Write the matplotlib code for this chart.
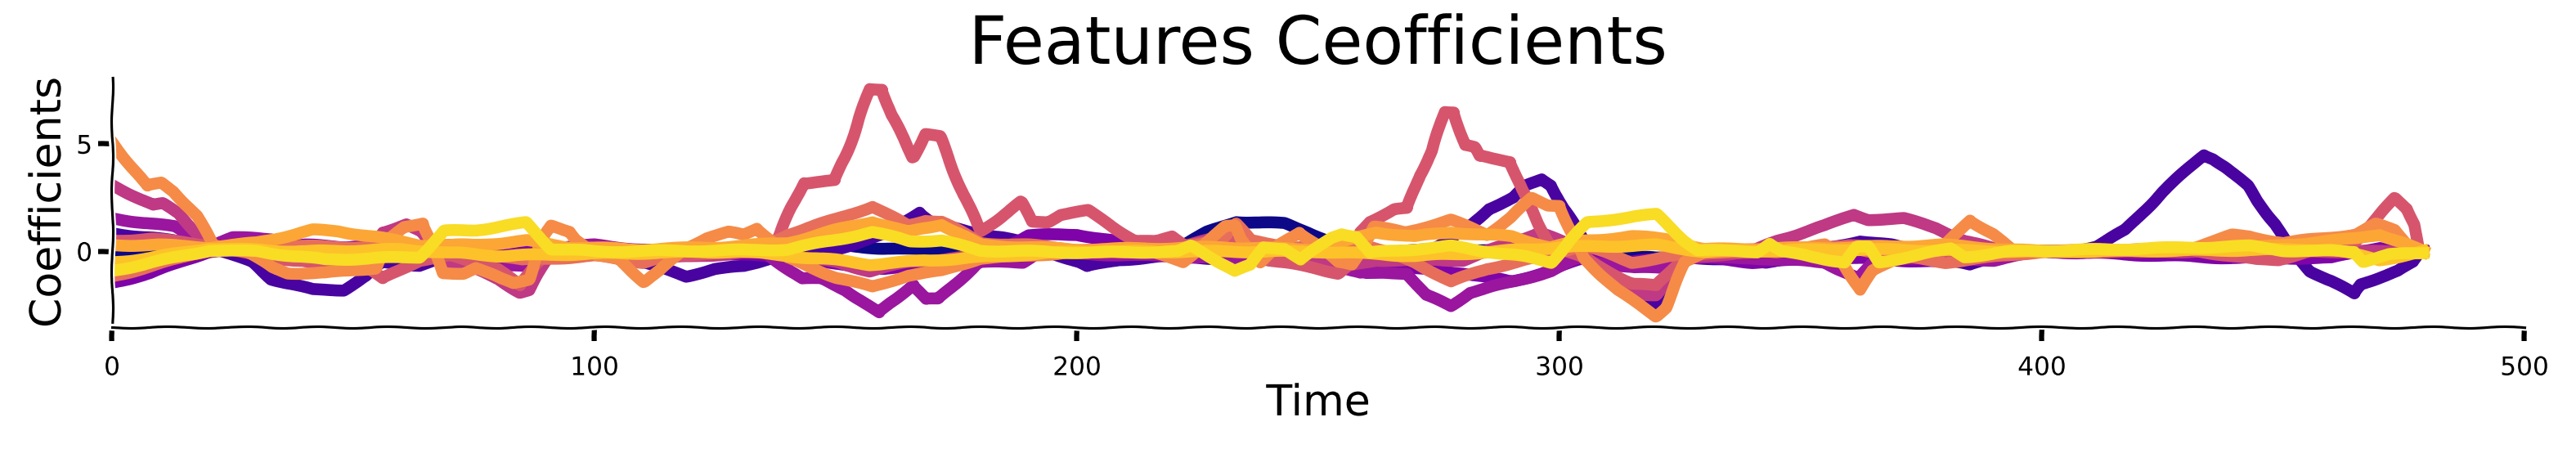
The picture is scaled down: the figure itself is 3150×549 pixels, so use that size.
import matplotlib
matplotlib.use("Agg")
import matplotlib.pyplot as plt
import numpy as np

# knots of each feature coefficient over time
t_navy = [0, 10, 20, 40, 60, 80, 100, 120, 140, 150, 160, 170, 180, 200, 215, 222, 227, 233, 243, 248, 252, 258, 280, 300, 320, 340, 380, 420, 460, 479]
v_navy = [-0.2, -0.1, 0.2, 0.1, 0.0, 0.1, 0.0, -0.1, 0.0, 0.3, 0.15, 0.05, 0.3, -0.2, -0.1, 0.3, 0.9, 1.4, 1.3, 0.9, 0.5, 0.0, 0.1, -0.1, -0.3, 0.0, 0.0, 0.0, 0.0, 0.0]

t_dpurple = [0, 8, 20, 29, 33, 41.6, 48, 52.7, 56, 63.7, 70, 80, 90, 100, 110, 119, 125, 131, 134, 140, 150, 160, 167.3, 170, 178.4, 184.9, 189, 200.4, 202, 208.7, 220, 227, 257.4, 268, 276.8, 282, 285.3, 290.5, 293, 296.3, 298.3, 300.8, 304, 305.2, 307.8, 315.6, 320.1, 323.4, 326.6, 342.8, 362.3, 368.8, 385, 393.5, 405.6, 411.4, 417.3, 425.1, 433.5, 435.5, 438, 442.6, 444.5, 448.4, 451, 455.6, 460.1, 464.7, 466, 470.5, 473.7, 477, 478.5]
v_dpurple = [0.85, 0.65, 0.25, -0.5, -1.27, -1.78, -1.78, -1.15, -0.5, -0.64, -0.2, -0.4, 0.2, 0.0, -0.5, -1.15, -0.8, -0.7, -0.5, 0.0, 0.1, 0.8, 1.84, 1.3, 0.9, 0.64, 0.4, -0.5, -0.7, -0.38, -0.2, -0.3, -0.5, -0.5, 0.5, 1.27, 2.0, 2.5, 3.05, 3.37, 3.1, 2.0, 0.9, 0.5, -0.5, -2.16, -2.48, -1.27, -0.25, -0.5, 0.5, 0.3, -0.64, 0.0, 0.0, 0.25, 1.0, 2.8, 4.5, 4.33, 3.94, 3.05, 2.4, 1.27, 0.25, -0.9, -1.4, -1.97, -1.53, -1.15, -0.9, -0.5, 0.0]

t_purple = [0, 8, 20, 40, 60, 80, 100, 120, 140, 150, 160, 170, 180, 190, 200, 210, 230, 250, 260, 270, 280, 290, 298, 305, 315, 325, 340, 360, 380, 400, 440, 460, 470, 479]
v_purple = [-1.45, -1.0, 0.0, 0.3, 0.1, 0.3, 0.2, 0.0, -0.3, -0.6, -0.8, -0.7, -0.3, 0.75, 0.8, 0.4, -0.2, -0.3, -1.0, -0.8, -1.0, -1.4, -0.9, -0.3, -0.5, -0.2, -0.5, -0.3, -0.5, 0.0, -0.3, -0.3, 0.2, 0.0]

t_violet = [0, 8, 13, 20, 25, 33, 40, 60, 70, 85, 92, 100, 120, 135, 143, 147, 152, 158.9, 166, 168.6, 171.2, 179.7, 188.8, 192, 200, 230, 250, 258.7, 268.4, 272.3, 277.5, 281.4, 290.5, 298.3, 304, 307.8, 315.6, 322, 326, 340, 355, 362, 366, 380, 390, 400, 479]
v_violet = [1.55, 1.3, 1.15, 0.25, 0.64, 0.6, 0.1, 0.4, -0.5, -0.7, 0.2, 0.3, -0.1, 0.0, -1.27, -1.27, -1.78, -2.86, -1.53, -2.22, -2.22, -0.5, -0.5, 0.0, -0.1, -0.3, -0.4, -1.0, -1.0, -2.03, -2.54, -1.9, -1.4, -0.9, -0.3, -0.5, -0.76, -0.76, -0.3, -0.3, -0.5, -1.27, -0.3, -0.3, -0.4, 0.0, 0.0]

t_magenta = [0, 8.5, 10.5, 13.7, 20.2, 30, 45, 52, 56, 61, 64, 69, 74, 80, 84.5, 86.5, 91, 100, 115, 135, 150, 157, 165, 175, 190, 210, 222, 228, 232, 236, 250, 256, 262, 280, 296, 302, 306, 315.6, 320, 326, 340, 345, 355, 361, 364, 371.4, 378, 384, 392, 479]
v_magenta = [3.1, 2.16, 2.22, 1.78, 0.25, 0.0, -0.7, -0.5, 0.9, 1.27, 0.9, -0.5, -0.7, -1.27, -1.9, -1.8, 0.0, 0.1, -0.3, 0.0, -0.5, -0.9, -0.5, -0.3, 0.0, 0.1, 0.2, 0.6, 0.6, 0.3, -0.5, -0.7, -0.4, -0.4, 0.9, 0.3, -0.3, -2.0, -2.0, -0.3, 0.0, 0.5, 1.2, 1.72, 1.5, 1.53, 1.1, 0.5, 0.0, 0.0]

t_pink = [0, 8, 20, 30, 45, 52, 56, 63.7, 70, 80, 84.5, 88, 92, 100, 110, 125, 135, 138.1, 140.7, 143.3, 149.8, 152.4, 154.4, 157, 159.6, 161.5, 166, 168.6, 171.6, 176.4, 180, 184.2, 188.4, 190.7, 194, 196.6, 202.3, 212, 216.5, 219.7, 222.3, 228, 234, 240, 248.9, 254.1, 257, 258.7, 260.6, 265.8, 268.4, 271, 273.6, 276.2, 278.1, 280.4, 282.4, 283.3, 289.8, 292.1, 295.7, 298.3, 305, 315, 320, 326, 340, 360, 370, 380, 400, 430, 444.5, 449, 455, 465, 469.2, 473.1, 475.7, 477.3, 478]
v_pink = [0.5, 0.6, 0.3, -0.2, -0.6, -0.6, -1.27, -0.4, -0.2, -0.8, -1.6, -0.5, 0.2, 0.0, -0.2, -0.1, 0.0, 0.64, 2.0, 3.2, 3.3, 4.7, 5.85, 7.57, 7.57, 6.36, 4.4, 5.47, 5.34, 2.67, 0.95, 1.6, 2.3, 1.4, 1.4, 1.72, 1.9, 0.5, 0.45, 0.7, 0.32, 0.5, 0.3, -0.4, -0.76, -1.0, -0.5, 0.9, 1.4, 1.97, 2.0, 3.56, 4.7, 6.5, 6.5, 4.96, 4.83, 4.45, 4.2, 2.9, 1.27, 0.25, -0.3, -1.5, -1.6, -0.2, 0.0, 0.3, 0.1, 0.0, 0.0, 0.1, -0.38, -0.38, 0.0, 0.5, 1.5, 2.48, 2.0, 1.27, 0.0]

t_salmon = [0, 8, 20, 30, 50, 70, 85, 100, 110, 120, 135, 140, 150, 157.6, 165, 168.6, 172, 180, 190, 200, 220, 230, 233, 236, 245, 260, 270, 277.5, 285, 295, 305, 315, 330, 360, 370, 380, 400, 450, 465, 470, 479]
v_salmon = [-1.15, -0.7, 0.1, 0.3, 0.2, 0.3, -0.4, -0.2, -0.5, 0.1, 0.2, 0.8, 1.5, 2.1, 1.2, 1.46, 1.4, 0.4, 0.3, 0.1, 0.0, 0.6, 1.3, 0.5, 0.2, 0.3, -0.5, -1.4, -0.8, -0.3, 0.3, -0.5, 0.0, 0.2, -0.2, -0.5, 0.0, 0.2, 0.8, 0.9, 0.0]

t_orange = [0, 7.2, 10.2, 12.8, 17.6, 20.9, 28, 33.2, 36.4, 44.2, 54.6, 57.2, 60.5, 64.4, 66.3, 68.6, 72.8, 75.4, 80.6, 83.2, 86.4, 89, 91, 94.9, 96.2, 100.5, 105, 110.2, 113.5, 118.7, 123.2, 127.8, 131, 133.6, 136.8, 140, 150, 157.6, 165, 172, 180, 190, 200, 215, 222, 226, 230.8, 232.7, 234, 238, 242, 246, 250, 254, 257, 261.6, 268, 277.5, 285, 290, 294.2, 297.6, 300, 302.1, 305, 312, 318, 320, 322, 326, 330, 345, 355, 359, 362.3, 365, 370, 380, 385, 390, 394, 430, 436, 439.4, 443, 450, 465, 469.2, 473.1, 476, 479]
v_orange = [5.1, 3.05, 3.2, 2.8, 1.65, 0.3, 0.0, -0.75, -1.0, -1.0, -0.76, 0.5, 1.15, 1.34, 0.25, -1.0, -1.0, -0.76, -1.27, -1.46, -1.27, 0.5, 1.2, 0.95, 0.57, -0.2, -0.35, -1.4, -0.9, 0.13, 0.64, 0.9, 0.76, 1.08, 0.5, -0.3, -1.2, -1.65, -1.1, -0.9, -0.3, -0.2, 0.0, 0.0, -0.5, 0.3, 1.15, 1.2, 0.6, -0.5, 0.3, 0.9, 0.3, -0.5, -0.6, 1.15, 0.9, 1.46, 0.8, 1.6, 2.48, 2.16, 2.16, 1.0, -0.3, -1.8, -2.7, -3.0, -2.6, -0.5, 0.0, 0.0, 0.3, -0.6, -1.78, -0.9, -0.3, 0.3, 1.46, 0.8, 0.0, 0.1, 0.5, 0.76, 0.7, 0.4, 0.8, 1.27, 1.0, 0.3, 0.0]

t_lorange = [0, 10, 20, 30, 41.6, 46.8, 54, 64, 75, 86, 95, 110, 125, 140, 150, 157.6, 165, 171.9, 180, 200, 230, 250, 262, 270, 277.5, 290, 298, 305, 315, 322, 330, 360, 380, 400, 440, 455, 465, 470, 475, 479]
v_lorange = [0.3, 0.3, 0.2, 0.4, 1.0, 0.95, 0.7, 0.3, 0.3, 0.5, 0.2, 0.1, 0.2, 0.4, 1.0, 1.4, 0.9, 1.27, 0.3, 0.1, 0.2, 0.1, 0.9, 0.7, 0.9, 0.7, 0.2, 0.5, 0.7, 0.6, 0.1, 0.2, 0.3, 0.0, 0.1, 0.4, 0.6, 0.8, 0.4, 0.0]

t_gold = [0, 8, 20, 40, 60, 80, 100, 130, 150, 157, 170, 185, 200, 250, 270, 280, 300, 320, 330, 360, 400, 460, 470, 479]
v_gold = [-0.5, -0.3, 0.15, 0.0, 0.1, -0.2, -0.1, 0.0, -0.4, -0.6, -0.4, -0.2, 0.0, 0.0, -0.2, -0.1, 0.2, 0.3, 0.0, 0.1, 0.0, 0.1, -0.4, 0.0]

t_yellow = [0, 8.5, 20.2, 30, 44.2, 63.7, 68.9, 75.4, 85.8, 91, 100.5, 130, 140, 157.6, 165.4, 172, 180, 202, 221, 223.6, 230.8, 232.7, 236, 238.6, 243, 246.3, 252.8, 254.8, 258, 260.6, 277.5, 293, 298.3, 302.1, 305.8, 315.6, 320.1, 326, 328.6, 341, 343.5, 346, 359.1, 361.7, 364, 366.2, 381.1, 384, 393.5, 443.2, 450, 464.7, 466.6, 472, 479]
v_yellow = [-0.9, -0.5, 0.06, 0.0, -0.38, -0.25, 0.95, 1.0, 1.34, 0.13, 0.0, 0.06, 0.1, 0.9, 0.5, 0.5, 0.05, -0.05, 0.0, 0.25, -0.64, -0.9, -0.64, 0.2, 0.15, -0.38, 0.64, 0.83, 0.7, -0.06, 0.25, -0.25, -0.5, 0.5, 1.34, 1.65, 1.72, 0.5, 0.06, 0.0, 0.38, 0.0, -0.5, 0.2, 0.2, -0.5, 0.13, -0.25, 0.0, 0.25, 0.05, 0.0, -0.45, -0.15, -0.05]

times = [t_navy, t_dpurple, t_purple, t_violet, t_magenta, t_pink, t_salmon, t_orange, t_lorange, t_gold, t_yellow]
values = [v_navy, v_dpurple, v_purple, v_violet, v_magenta, v_pink, v_salmon, v_orange, v_lorange, v_gold, v_yellow]
cmap_pos = [0.0, 0.12, 0.25, 0.33, 0.45, 0.55, 0.63, 0.72, 0.8, 0.87, 0.93]

plt.xkcd()
plt.rcParams['font.family'] = ['DejaVu Sans']

fig, ax = plt.subplots(figsize=(21, 3.66), dpi=150)
fig.subplots_adjust(left=0.0435, right=0.98, bottom=0.271, top=0.827)

for t, v, p in zip(times, values, cmap_pos):
    ax.plot(t, v, color=plt.cm.plasma(p), linewidth=7)

ax.set_xlim(0, 500)
ax.set_yticks([0, 5])
ax.spines['top'].set_visible(False)
ax.spines['right'].set_visible(False)
ax.tick_params(labelsize=15)
ax.tick_params(axis='x', pad=9)
ax.set_title('Features Ceofficients', fontsize=39)
ax.set_xlabel('Time', fontsize=25, labelpad=2)
ax.set_ylabel('Coefficients', fontsize=25)

fig.savefig('out.png', dpi=150)
